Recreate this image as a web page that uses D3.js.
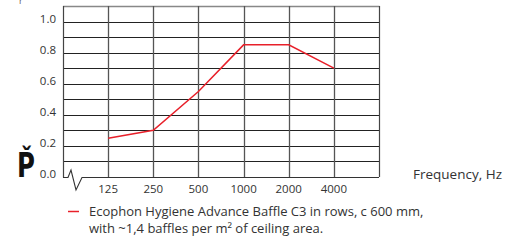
<!DOCTYPE html>
<html>
<head>
<meta charset="utf-8">
<script src="https://cdn.jsdelivr.net/npm/d3@7"></script>
<style>
  body { margin: 0; background: #fff; }
  text { font-family: "Open Sans", sans-serif; fill: #333; }
</style>
</head>
<body>
<svg id="chart" width="511" height="243"></svg>
<script>
// frequency bands and absorption values
var categories = ["125", "250", "500", "1000", "2000", "4000"];
var values = [0.25, 0.30, 0.55, 0.85, 0.85, 0.70];
var yTicks = [0.0, 0.2, 0.4, 0.6, 0.8, 1.0];
var legendLines = ["Ecophon Hygiene Advance Baffle C3 in rows, c 600 mm,",
  "with ~1,4 baffles per m\u00B2 of ceiling area."];

var svg = d3.select("#chart");
var pLeft = 63, pRight = 379, pTop = 6, pBottom = 177;

var x = d3.scalePoint()
  .domain(categories)
  .range([pLeft, pRight])
  .padding(1);

var y = d3.scaleLinear()
  .domain([0, 1.1])
  .range([pBottom, pTop]);

// horizontal grid every 0.1
var hLines = d3.range(1, 11).map(function (d) { return d / 10; });
svg.selectAll(".hgrid")
  .data(hLines)
  .enter()
  .append("line")
  .attr("x1", pLeft).attr("x2", pRight)
  .attr("y1", function (d) { return Math.round(y(d)) + 0.5; })
  .attr("y2", function (d) { return Math.round(y(d)) + 0.5; })
  .attr("stroke", "#222")
  .attr("stroke-width", 1);

// top border
svg.append("line")
  .attr("x1", pLeft).attr("x2", pRight + 0.5)
  .attr("y1", pTop + 0.5).attr("y2", pTop + 0.5)
  .attr("stroke", "#888")
  .attr("stroke-width", 1.5);

// vertical grid
svg.selectAll(".vgrid")
  .data(categories)
  .enter()
  .append("line")
  .attr("x1", function (d) { return Math.round(x(d)) + 0.5; })
  .attr("x2", function (d) { return Math.round(x(d)) + 0.5; })
  .attr("y1", pTop).attr("y2", pBottom)
  .attr("stroke", "#555")
  .attr("stroke-width", 1.3);

// left and right borders
svg.append("line")
  .attr("x1", pLeft + 0.5).attr("x2", pLeft + 0.5)
  .attr("y1", pTop).attr("y2", pBottom + 0.5)
  .attr("stroke", "#444").attr("stroke-width", 1.2);
svg.append("line")
  .attr("x1", pRight + 0.5).attr("x2", pRight + 0.5)
  .attr("y1", pTop).attr("y2", pBottom)
  .attr("stroke", "#444").attr("stroke-width", 1.2);

// bottom axis with break symbol
var b = pBottom + 0.5;
svg.append("path")
  .attr("d", "M" + pLeft + "," + b + " L68," + b + " L71,170 L76,190 L82," + b + " L" + pRight + "," + b)
  .attr("fill", "none")
  .attr("stroke", "#333")
  .attr("stroke-width", 1.1);

// y labels
svg.selectAll(".ylab")
  .data(yTicks)
  .enter()
  .append("text")
  .attr("x", 56)
  .attr("y", function (d) { return y(d) + 1; })
  .attr("text-anchor", "end")
  .style("font-size", "11.5px")
  .text(function (d) { return d.toFixed(1); });

// x labels
svg.selectAll(".xlab")
  .data(categories)
  .enter()
  .append("text")
  .attr("x", function (d) { return x(d); })
  .attr("y", 193)
  .attr("text-anchor", "middle")
  .style("font-size", "11.5px")
  .text(function (d) { return d; });

svg.append("text")
  .attr("x", 413)
  .attr("y", 179)
  .style("font-size", "13.5px")
  .text("Frequency, Hz");

// data line
var line = d3.line()
  .x(function (d, i) { return x(categories[i]); })
  .y(function (d) { return y(d); });

svg.append("path")
  .datum(values)
  .attr("d", line)
  .attr("fill", "none")
  .attr("stroke", "#e8202a")
  .attr("stroke-width", 1.5);

// legend
svg.append("line")
  .attr("x1", 68).attr("x2", 79)
  .attr("y1", 211.5).attr("y2", 211.5)
  .attr("stroke", "#e8202a")
  .attr("stroke-width", 1.5);

svg.selectAll(".leg")
  .data(legendLines)
  .enter()
  .append("text")
  .attr("x", 89)
  .attr("y", function (d, i) { return 216 + i * 17; })
  .style("font-size", "13px")
  .text(function (d) { return d; });

// alpha-p symbol at left (P with caron)
svg.append("text")
  .attr("transform", "translate(17,177) scale(0.72,1)")
  .style("font-family", "DejaVu Sans")
  .style("font-size", "34px")
  .style("font-weight", "bold")
  .style("fill", "#111")
  .text("P\u030C");
svg.append("text")
  .attr("x", 19)
  .attr("y", 4)
  .style("font-size", "9px")
  .style("fill", "#666")
  .text("r");
</script>
</body>
</html>
